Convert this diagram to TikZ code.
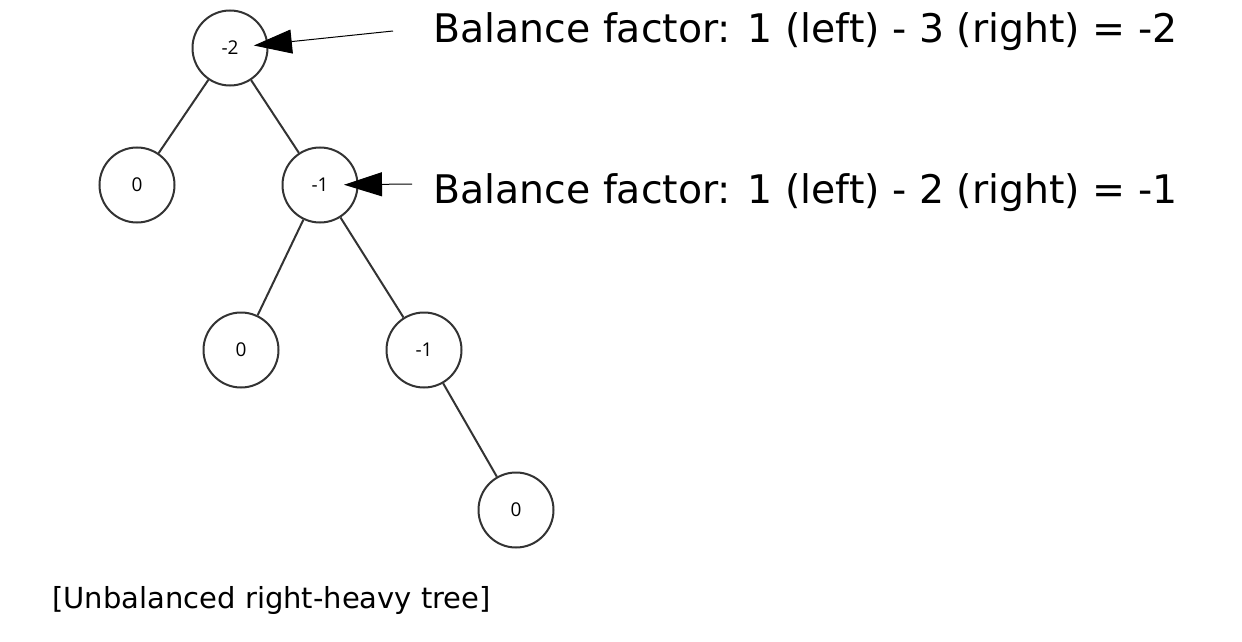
\documentclass[tikz,border=0pt]{standalone}
\usepackage{fontspec}
\setmainfont{Open Sans}
\newfontfamily\notefont{DejaVu Sans}
\usepackage{tikz}
\usetikzlibrary{arrows.meta}

\begin{document}
\begin{tikzpicture}[x=0.5pt,y=-0.5pt,
  bnode/.style={circle,draw=black!80,line width=1pt,minimum size=37.5pt,inner sep=0pt,font=\fontsize{9.5}{11}\selectfont},
  link/.style={draw=black!80,line width=1pt},
  pointer/.style={draw=black,line width=0.5pt,-{Triangle[length=19pt,width=12pt]},shorten >=12pt},
  note/.style={anchor=base west,inner sep=0pt,font=\notefont\fontsize{19.7}{24}\selectfont}]
\useasboundingbox (0,0) rectangle (1242,642);
% tree
\node[bnode] (n1) at (230,48) {-2};
\node[bnode] (n2) at (137,185) {0};
\node[bnode] (n3) at (320,185) {-1};
\node[bnode] (n4) at (241,350) {0};
\node[bnode] (n5) at (424,350) {-1};
\node[bnode] (n6) at (516,510) {0};
\foreach \a/\b in {n1/n2,n1/n3,n3/n4,n3/n5,n5/n6} {
   \draw[link] (\a) -- (\b);
}
% balance factors
\node[note] (bf1) at (433,43) {Balance factor: 1 (left) - 3 (right) = -2};
\node[note] (bf2) at (433,203) {Balance factor: 1 (left) - 2 (right) = -1};
\coordinate (p1) at (393,31);
\coordinate (p2) at (412,184);
\draw[pointer] (p1) -- (n1.center);
\draw[pointer] (p2) -- (n3.center);
\node[note,font=\notefont\fontsize{14.5}{18}\selectfont] (cap) at (52,608) {[Unbalanced right-heavy tree]};
\end{tikzpicture}
\end{document}
